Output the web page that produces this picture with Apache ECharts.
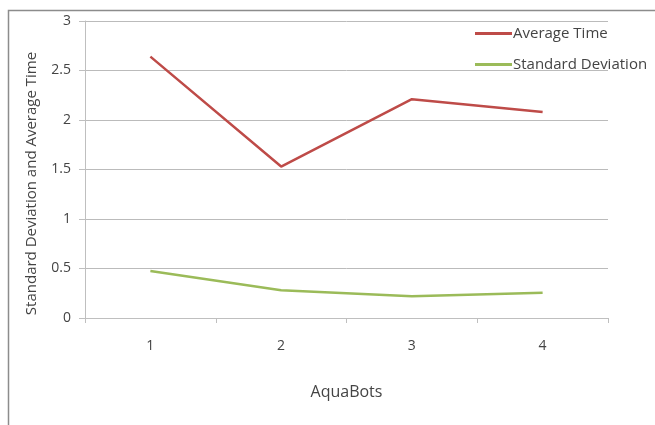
<!DOCTYPE html>
<html><head><meta charset="utf-8">
<script src="https://cdn.jsdelivr.net/npm/echarts@6/dist/echarts.min.js"></script>
<style>html,body{margin:0;padding:0;background:#fff}#c{width:655px;height:425px}</style>
</head><body><div id="c"></div>
<script>
const categories = ['1', '2', '3', '4'];
const averageTime = [2.64, 1.53, 2.21, 2.08];
const standardDeviation = [0.475, 0.28, 0.22, 0.255];
const seriesNames = ['Average Time', 'Standard Deviation'];
const xAxisTitle = 'AquaBots';
const yAxisTitle = 'Standard Deviation and Average Time';

const font = '"Open Sans", Lato, sans-serif';
const chart = echarts.init(document.getElementById('c'), null, {renderer: 'canvas'});
chart.setOption({
  animation: false,
  backgroundColor: '#fff',
  graphic: [{
    type: 'polyline', silent: true,
    shape: {points: [[8.5, 425], [8.5, 10.5], [655, 10.5]]},
    style: {stroke: '#8c8c8c', lineWidth: 1.5, fill: null}
  }],
  grid: {left: 85, right: 47, top: 21, bottom: 107, containLabel: false},
  legend: {
    orient: 'vertical', left: 470, top: 21, itemGap: 16,
    icon: 'rect', itemWidth: 37, itemHeight: 3,
    textStyle: {fontFamily: font, fontSize: 15, color: '#444', padding: [0, 0, 0, -4]},
    data: seriesNames
  },
  xAxis: {
    type: 'category', data: categories, boundaryGap: true,
    name: xAxisTitle, nameLocation: 'middle', nameGap: 66,
    nameTextStyle: {fontFamily: font, fontSize: 16, color: '#444'},
    axisLine: {lineStyle: {color: '#bfbfbf', width: 1}},
    axisTick: {show: true, length: 5, lineStyle: {color: '#bfbfbf'}},
    axisLabel: {fontFamily: font, fontSize: 14, color: '#444', margin: 21}
  },
  yAxis: {
    type: 'value', min: 0, max: 3, interval: 0.5,
    name: yAxisTitle, nameLocation: 'middle', nameGap: 46,
    nameTextStyle: {fontFamily: font, fontSize: 15, color: '#444', padding: [0, 28, 0, 0]},
    axisLine: {show: true, lineStyle: {color: '#bfbfbf', width: 1}},
    axisTick: {show: true, length: 6, lineStyle: {color: '#bfbfbf'}},
    axisLabel: {fontFamily: font, fontSize: 14, color: '#444', margin: 14},
    splitLine: {lineStyle: {color: '#bbbbbb', width: 1}}
  },
  series: [
    {name: seriesNames[0], type: 'line', data: averageTime, showSymbol: false, symbol: 'none',
     lineStyle: {color: '#be4b48', width: 2.5}, itemStyle: {color: '#be4b48'}},
    {name: seriesNames[1], type: 'line', data: standardDeviation, showSymbol: false, symbol: 'none',
     lineStyle: {color: '#9bbb59', width: 2.5}, itemStyle: {color: '#9bbb59'}}
  ]
});
</script></body></html>
